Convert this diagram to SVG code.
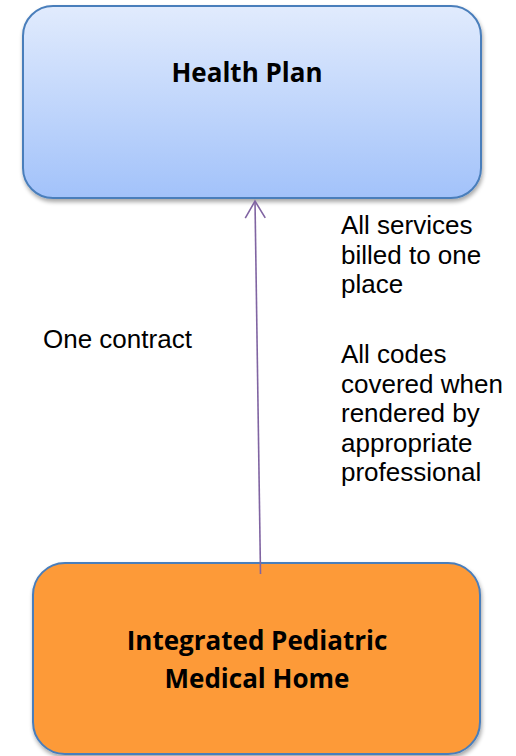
<svg xmlns="http://www.w3.org/2000/svg" width="516" height="756" viewBox="0 0 516 756">
  <defs>
    <linearGradient id="blueGrad" x1="0" y1="0" x2="0" y2="1">
      <stop offset="0" stop-color="#e1ebfd"/>
      <stop offset="1" stop-color="#a2c2fa"/>
    </linearGradient>
    <filter id="shadow" x="-10%" y="-10%" width="120%" height="125%">
      <feGaussianBlur in="SourceAlpha" stdDeviation="2"/>
      <feOffset dx="1" dy="3" result="b"/>
      <feComponentTransfer><feFuncA type="linear" slope="0.35"/></feComponentTransfer>
      <feMerge><feMergeNode/><feMergeNode in="SourceGraphic"/></feMerge>
    </filter>
    <marker id="openArrow" markerUnits="userSpaceOnUse" markerWidth="24" markerHeight="24" viewBox="-20 -12 24 24" refX="0" refY="0" orient="auto">
      <path d="M -17 -10 L 0 0 L -17 10" fill="none" stroke="#8064a2" stroke-width="1.6"/>
    </marker>
  </defs>
  <style>
    .box { stroke: #4a7ebb; stroke-width: 2; }
    .title { font-family: "Open Sans", "Noto Sans", sans-serif; font-weight: bold; font-size: 26px; fill: #000; text-anchor: middle; }
    .label { font-family: "Liberation Sans", Arial, sans-serif; font-size: 26px; fill: #000; }
    .conn { stroke: #8064a2; stroke-width: 1.6; fill: none; }
  </style>

  <g id="health-plan">
    <rect class="box" x="23" y="6" width="458" height="192" rx="30" ry="30" fill="url(#blueGrad)" filter="url(#shadow)"/>
    <text class="title" x="247" y="82">Health Plan</text>
  </g>

  <g id="medical-home">
    <rect class="box" x="33" y="563" width="447" height="191" rx="32" ry="32" fill="#fd9a38" filter="url(#shadow)"/>
    <text class="title" x="257" y="650">Integrated Pediatric</text>
    <text class="title" x="257" y="688">Medical Home</text>
  </g>

  <g id="connectors">
    <line class="conn" x1="260.5" y1="574" x2="255" y2="201" marker-end="url(#openArrow)"/>
  </g>

  <g id="labels">
    <text class="label" x="43" y="348">One contract</text>
    <text class="label" x="341" y="234">All services</text>
    <text class="label" x="341" y="263.5">billed to one</text>
    <text class="label" x="341" y="293">place</text>
    <text class="label" x="341" y="363">All codes</text>
    <text class="label" x="341" y="392.5">covered when</text>
    <text class="label" x="341" y="422">rendered by</text>
    <text class="label" x="341" y="451.5">appropriate</text>
    <text class="label" x="341" y="481">professional</text>
  </g>
</svg>
